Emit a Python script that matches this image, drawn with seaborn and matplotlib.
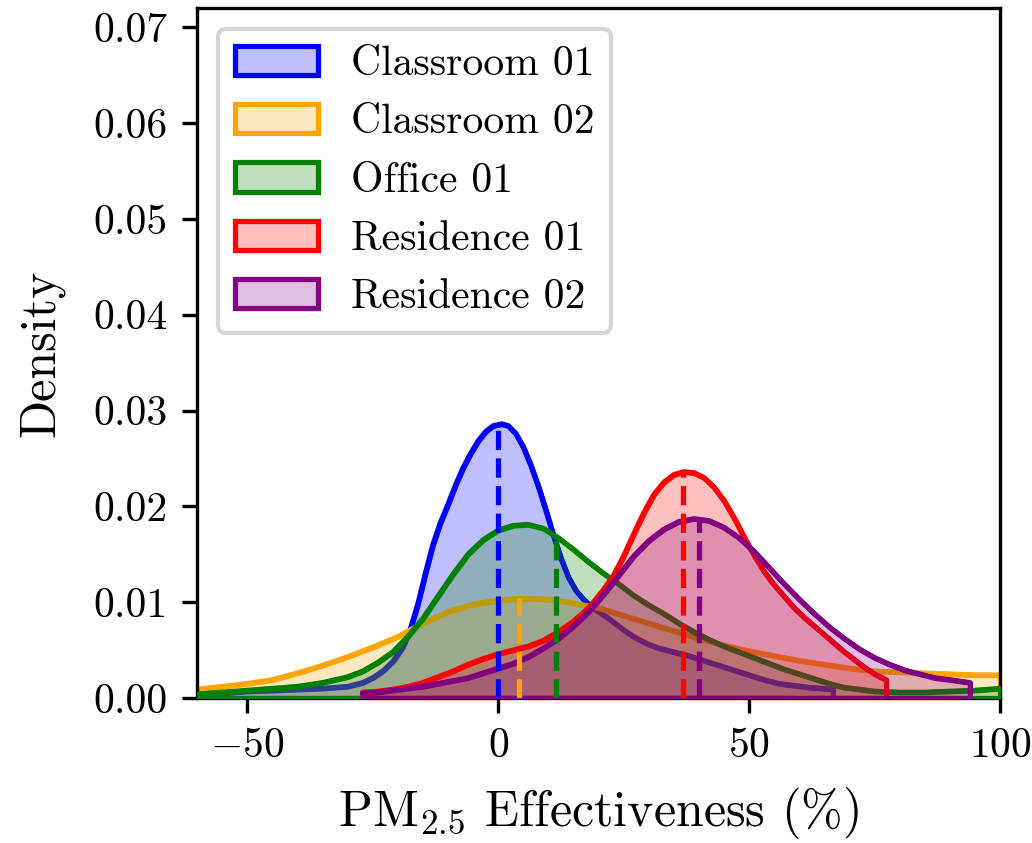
import numpy as np
import pandas as pd
import matplotlib
matplotlib.use("Agg")
import matplotlib.pyplot as plt
from matplotlib.patches import Patch
from matplotlib.ticker import FormatStrFormatter
from matplotlib.colors import to_rgba
import seaborn as sns

# Site names and colours
sites = ["Classroom 01", "Classroom 02", "Office 01", "Residence 01", "Residence 02"]
colors = ["blue", "orange", "green", "red", "purple"]

# Density curves of PM2.5 effectiveness (%) per site
x_class01 = [-60, -55, -50, -45, -40, -35, -30, -27, -25, -23, -21, -19, -17.5, -16, -14.5,
             -13, -11.5, -10, -8.5, -7, -5.5, -4, -2.5, -1, 0.7, 2, 3.5, 5, 6.5, 8, 9.5, 11,
             12.5, 14, 15.5, 17, 18.5, 20, 21.5, 23, 25, 27, 29.5, 32, 35, 38, 41, 44, 47, 50,
             53, 56, 59, 62, 64.5, 66.7]
d_class01 = [.0004, .0005, .0007, .0008, .0009, .0010, .0012, .0016, .0021, .0028, .0038, .0053,
             .0072, .0098, .0130, .0160, .0183, .0202, .0222, .0240, .0255, .0268, .0278, .0284,
             .0286, .0284, .0276, .0262, .0243, .0221, .0196, .0170, .0146, .0126, .0112, .0103,
             .0096, .0090, .0085, .0079, .0071, .0064, .0057, .0052, .0048, .0044, .0039, .0034,
             .0029, .0024, .0019, .0015, .0013, .0011, .0010, .0009]

x_class02 = [-60, -55, -50, -45, -40, -35, -30, -25, -20, -15, -10, -5, 0, 5, 10, 15, 20, 25,
             30, 35, 40, 45, 50, 55, 60, 65, 70, 75, 80, 85, 90, 95, 100]
d_class02 = [.0009, .0012, .0015, .0019, .0026, .0034, .0043, .0053, .0064, .0078, .0090, .0098,
             .0102, .0104, .0103, .0099, .0094, .0086, .0078, .0070, .0062, .0055, .0049, .0044,
             .0039, .0035, .0031, .0028, .0027, .0026, .0025, .0024, .0024]

x_office01 = [-60, -55, -50, -45, -40, -35, -30, -27, -24, -21, -18, -15, -12, -9, -6, -3, 0, 3,
              6, 9, 12, 15, 18, 21, 24, 27, 30, 33, 36, 39, 42, 45, 48, 51, 54, 57, 60, 63, 66,
              69, 72, 75, 80, 85, 90, 95, 100]
d_office01 = [.0004, .0006, .0008, .0010, .0012, .0016, .0022, .0028, .0037, .0048, .0064, .0083,
              .0106, .0129, .0150, .0165, .0175, .0180, .0181, .0177, .0167, .0155, .0142, .0130,
              .0119, .0107, .0097, .0088, .0078, .0069, .0061, .0054, .0048, .0042, .0036, .0030,
              .0025, .0020, .0015, .0011, .0009, .0007, .0006, .0006, .0007, .0008, .0010]

x_res01 = [-27, -24, -21, -18, -15, -12, -9, -6, -3, 0, 3, 6, 9, 12, 15, 17, 19, 21, 23, 25, 27,
           29, 31, 33, 35, 37, 39, 41, 43, 45, 47, 49, 51, 53, 55, 57, 59, 61, 63, 65, 67, 69,
           71, 73, 75, 77.3]
d_res01 = [.0006, .0007, .0009, .0012, .0016, .0022, .0028, .0035, .0041, .0046, .0050, .0054,
           .0060, .0069, .0080, .0089, .0100, .0113, .0128, .0148, .0171, .0193, .0212, .0225,
           .0233, .0236, .0235, .0230, .0220, .0206, .0188, .0168, .0149, .0132, .0118, .0106,
           .0094, .0084, .0075, .0066, .0057, .0048, .0040, .0032, .0025, .0019]

x_res02 = [-27, -24, -21, -18, -15, -12, -9, -6, -3, 0, 3, 6, 9, 12, 15, 18, 21, 24, 27, 30, 33,
           36, 39, 42, 45, 48, 51, 54, 57, 60, 63, 66, 69, 72, 75, 78, 81, 84, 87, 90, 94]
d_res02 = [.0005, .0006, .0008, .0010, .0012, .0015, .0018, .0021, .0026, .0031, .0036, .0043,
           .0052, .0062, .0075, .0090, .0108, .0128, .0148, .0164, .0176, .0184, .0187, .0185,
           .0178, .0167, .0153, .0136, .0119, .0103, .0088, .0074, .0062, .0051, .0042, .0035,
           .0029, .0025, .0021, .0019, .0016]

# Median effectiveness per site and the density at that point
median_x = [0.0, 4.2, 11.5, 36.8, 40.0]
median_d = [0.0285, 0.0104, 0.0168, 0.0236, 0.0187]

curves = [(x_class01, d_class01), (x_class02, d_class02), (x_office01, d_office01),
          (x_res01, d_res01), (x_res02, d_res02)]

frames = []
for name, (xs, ds) in zip(sites, curves):
    frames.append(pd.DataFrame({"effectiveness": xs, "density": ds, "site": name}))
df = pd.concat(frames, ignore_index=True)

sns.set_style("ticks")
plt.rcParams.update({
    "font.family": "serif",
    "font.serif": ["cmr10"],
    "mathtext.fontset": "cm",
    "axes.formatter.use_mathtext": True,
    "axes.unicode_minus": True,
    "axes.edgecolor": "black",
    "axes.linewidth": 0.8,
    "xtick.color": "black",
    "ytick.color": "black",
    "text.color": "black",
    "axes.labelcolor": "black",
    "xtick.major.size": 3.5,
    "ytick.major.size": 3.5,
    "xtick.major.width": 0.8,
    "ytick.major.width": 0.8,
})

fig = plt.figure(figsize=(3.44, 2.81), dpi=300)
ax = fig.add_axes([0.1909, 0.172, 0.969 - 0.1909, 0.9905 - 0.172])

lw = 1.25
for i, (name, color) in enumerate(zip(sites, colors)):
    sub = df[df["site"] == name]
    # filled area with its own outline (includes the vertical ends of the clipped range)
    ax.fill_between(sub["effectiveness"], sub["density"],
                    facecolor=to_rgba(color, 0.25), edgecolor=color, linewidth=lw,
                    zorder=1 + i)
    sns.lineplot(data=sub, x="effectiveness", y="density", color=color,
                 linewidth=lw, ax=ax, legend=False, sort=False, zorder=1.5 + i)

for mx, md, color in zip(median_x, median_d, colors):
    ax.vlines(mx, 0, md, colors=color, linestyles="--", linewidth=lw, zorder=8)

ax.set_xlim(-60, 100)
ax.set_ylim(0, 0.072)
ax.set_xticks([-50, 0, 50, 100])
ax.set_yticks([0.00, 0.01, 0.02, 0.03, 0.04, 0.05, 0.06, 0.07])
ax.yaxis.set_major_formatter(FormatStrFormatter("%.2f"))
ax.tick_params(labelsize=10)
ax.set_xlabel("PM$_{2.5}$ Effectiveness (%)", fontsize=12, labelpad=5)
ax.set_ylabel("Density", fontsize=12, labelpad=7)

handles = [Patch(facecolor=to_rgba(c, 0.25), edgecolor=c, linewidth=lw) for c in colors]
leg = ax.legend(handles, sites, loc="upper left", fontsize=10, frameon=True,
                fancybox=True, edgecolor="0.8", framealpha=0.8)
leg.set_zorder(10)

fig.savefig("out.png", dpi=300)
